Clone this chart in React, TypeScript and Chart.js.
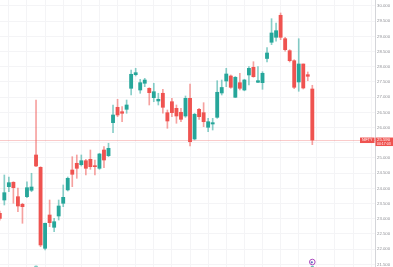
import { useEffect, useRef } from "react";
import { Chart, registerables } from "chart.js";

Chart.register(...registerables);

// OHLC series (oldest first)
const opens = [
  23180, 23617, 24055, 24200, 23726, 23476, 23726, 23937, 25098, 24693,
  22028, 23124, 22719, 23091, 23509, 23949, 24604, 24825, 24779, 24910,
  24956, 24746, 24660, 25262, 25075, 26161, 26667, 26522, 26601, 27292,
  27740, 27236, 27457, 27292, 26983, 26874, 27128, 26490, 26851, 26634,
  26503, 26381, 26963, 25624, 26601, 26490, 26009, 26118, 26338, 27138,
  27532, 27697, 26996, 27477, 27236, 27730, 27983, 27490, 27477, 28273,
  28806, 28970, 29694, 28924, 28529, 28200, 27500, 28092, 27740, 27269,
];
const highs = [
  23250, 24440, 24374, 24219, 24012, 23509, 24219, 24496, 26907, 24713,
  22860, 23617, 23015, 23617, 24111, 24374, 25042, 25098, 25098, 24956,
  25262, 24933, 25154, 25371, 25483, 26743, 26930, 26687, 26907, 27894,
  27950, 27588, 27621, 27312, 27457, 27128, 27259, 26578, 26963, 26743,
  26634, 27039, 27434, 26470, 26634, 26819, 26305, 26305, 27542, 27565,
  27950, 27730, 27680, 27786, 27590, 28003, 28167, 28003, 27838, 28635,
  29582, 29441, 29770, 28970, 28562, 28233, 28924, 28092, 27829, 27391,
];
const lows = [
  22950, 23453, 23890, 23509, 23232, 22851, 23693, 23890, 24713, 22081,
  21972, 22739, 22574, 22959, 23397, 23914, 24055, 24331, 24736, 24440,
  24627, 24440, 24627, 24680, 25042, 25832, 26358, 26193, 26470, 27072,
  27697, 27128, 27345, 26743, 26851, 26743, 26470, 25976, 26358, 26141,
  26193, 26338, 25394, 25594, 26272, 26029, 25865, 25920, 26305, 27072,
  27345, 27292, 26990, 27236, 27210, 27401, 27654, 27477, 27259, 28158,
  28727, 28839, 28891, 28510, 28158, 27280, 27194, 27270, 27542, 25437,
];
const closes = [
  23015, 23858, 24187, 24022, 23420, 23397, 24022, 24045, 24736, 22137,
  22851, 22871, 22903, 23420, 23706, 24331, 24463, 24660, 24910, 24660,
  24713, 24713, 25131, 24933, 25318, 26414, 26414, 26470, 26743, 27753,
  27806, 27477, 27565, 27148, 27180, 26930, 26667, 26216, 26490, 26381,
  26272, 26963, 25535, 26437, 26358, 26193, 26193, 26161, 27161, 27319,
  27763, 27325, 27654, 27292, 27565, 27950, 27674, 27542, 27786, 28454,
  29112, 29187, 28970, 28562, 28200, 27325, 28092, 27302, 27687, 25590,
];

// price axis tick labels
const yTicks = [
  21500, 22000, 22500, 23000, 23500, 24000, 24500, 25000, 25500,
  26000, 26500, 27000, 27500, 28000, 28500, 29000, 29500, 30000,
];

const symbolName = "NIFTY";
const countdown = "00:17:03";
// event markers: candle index + colour
const markerIndex = [8, 69];
const markerColors = ["#26a69a", "#ab47bc"];

const UP = "#26a69a";
const DOWN = "#ef5350";
const FONT = "'Liberation Sans', Arial, sans-serif";

export default function App() {
  const ref = useRef<HTMLCanvasElement | null>(null);

  useEffect(() => {
    document.body.style.margin = "0";
    const canvas = ref.current;
    if (!canvas) return;

    const isUp = closes.map((c, i) => c >= opens[i]);
    const bodyData = opens.map((o, i) => ({ x: i, y: [o, closes[i]] }));
    const wickData = lows.map((l, i) => ({ x: i, y: [l, highs[i]] }));
    const bodyColors = isUp.map((u) => (u ? UP : DOWN));
    const wickColors = isUp.map((u) =>
      u ? "rgba(38,166,154,0.55)" : "rgba(239,83,80,0.55)"
    );

    const gridIdx: number[] = [];
    for (let i = 2; i <= 82; i += 4) gridIdx.push(i);

    const overlay = {
      id: "overlay",
      beforeDatasetsDraw(chart: any) {
        const { ctx, chartArea, scales } = chart;
        const py = Math.round(scales.y.getPixelForValue(closes[closes.length - 1])) + 0.5;
        ctx.save();
        ctx.strokeStyle = "rgba(239,83,80,0.3)";
        ctx.lineWidth = 1;
        ctx.beginPath();
        ctx.moveTo(chartArea.left, py);
        ctx.lineTo(chartArea.right, py);
        ctx.stroke();
        ctx.restore();
      },
      afterDraw(chart: any) {
        const { ctx, chartArea, scales, width } = chart;
        const last = closes[closes.length - 1];
        const py = scales.y.getPixelForValue(last);
        ctx.save();
        ctx.fillStyle = DOWN;
        ctx.fillRect(chartArea.right - 15, py - 2.5, 14.5, 5.5);
        ctx.fillRect(chartArea.right + 0.5, py - 2.5, width - chartArea.right, 8.5);
        ctx.fillStyle = "#ffffff";
        ctx.textBaseline = "middle";
        ctx.textAlign = "center";
        ctx.font = `3.6px ${FONT}`;
        ctx.fillText(symbolName, chartArea.right - 7.8, py + 0.3);
        ctx.textAlign = "left";
        ctx.font = `4.3px ${FONT}`;
        ctx.fillText((last / 1000).toFixed(3), chartArea.right + 2, py + 0.2);
        ctx.font = `3.5px ${FONT}`;
        ctx.fillText(countdown, chartArea.right + 2, py + 3.9);

        markerIndex.forEach((idx, k) => {
          const mx = scales.x.getPixelForValue(idx);
          if (k === 1) {
            const my = chartArea.bottom - 5;
            ctx.beginPath();
            ctx.arc(mx, my, 2.8, 0, Math.PI * 2);
            ctx.fillStyle = "#ffffff";
            ctx.fill();
            ctx.strokeStyle = markerColors[k];
            ctx.lineWidth = 1;
            ctx.stroke();
            ctx.beginPath();
            ctx.arc(mx - 0.5, my + 0.3, 1.1, 0, Math.PI * 2);
            ctx.fillStyle = "#5c6bc0";
            ctx.fill();
            ctx.fillStyle = "rgba(38,166,154,0.7)";
            ctx.fillRect(mx - 1.5, chartArea.bottom - 1.2, 3, 1.2);
          } else {
            ctx.beginPath();
            ctx.arc(mx, chartArea.bottom + 0.8, 2.2, 0, Math.PI * 2);
            ctx.fillStyle = "rgba(38,166,154,0.6)";
            ctx.fill();
          }
        });
        ctx.restore();
      },
    };

    const chart = new Chart(canvas, {
      type: "bar",
      data: {
        datasets: [
          {
            label: "body",
            data: bodyData as any,
            backgroundColor: bodyColors,
            borderWidth: 0,
            barThickness: 3.2,
            minBarLength: 1,
            grouped: false,
          } as any,
          {
            label: "wick",
            data: wickData as any,
            backgroundColor: wickColors,
            borderWidth: 0,
            barThickness: 1,
            grouped: false,
          } as any,
        ],
      },
      options: {
        animation: false,
        responsive: false,
        events: [],
        layout: { padding: 0 },
        plugins: {
          legend: { display: false },
          tooltip: { enabled: false },
        },
        scales: {
          x: {
            type: "linear",
            min: 0.044,
            max: 82.84,
            offset: false,
            ticks: { display: false },
            grid: { color: "#f4f4f6", drawTicks: false, lineWidth: 1, offset: false },
            border: { display: false },
            afterBuildTicks: (s: any) => {
              s.ticks = gridIdx.map((v) => ({ value: v }));
            },
            afterFit: (s: any) => {
              s.height = 0;
              s.paddingLeft = 0;
              s.paddingRight = 0;
            },
          },
          y: {
            type: "linear",
            position: "right",
            min: 21413,
            max: 30197,
            afterBuildTicks: (s: any) => {
              s.ticks = yTicks.map((v) => ({ value: v }));
            },
            afterFit: (s: any) => {
              s.width = 18;
              s.paddingTop = 0;
              s.paddingBottom = 0;
            },
            ticks: {
              padding: 2,
              color: "#8f9096",
              font: { size: 4.3, family: FONT },
              callback: (v: any) => (Number(v) / 1000).toFixed(3),
            },
            grid: { color: "#f4f4f6", drawTicks: false, lineWidth: 1 },
            border: { display: true, color: "#d4d5d9", width: 1 },
          },
        },
      } as any,
      plugins: [overlay],
    });

    return () => chart.destroy();
  }, []);

  return <canvas ref={ref} width={393} height={267} style={{ display: "block" }} />;
}
